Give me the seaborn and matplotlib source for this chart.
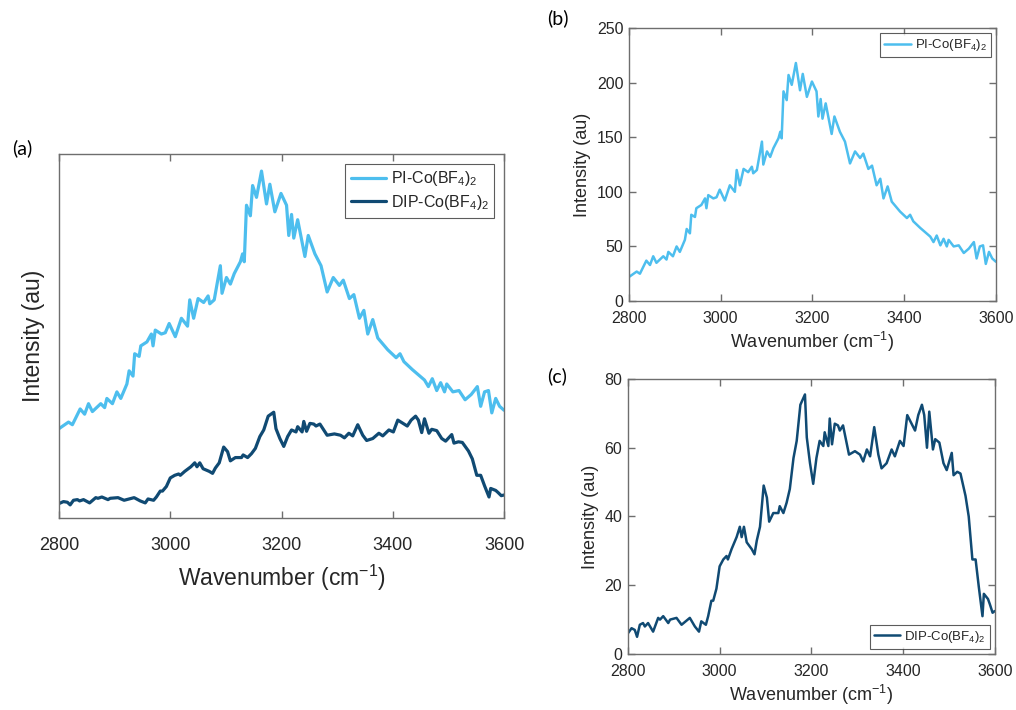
import numpy as np
import pandas as pd
import matplotlib
matplotlib.use("Agg")
import matplotlib.pyplot as plt
import seaborn as sns

# ---------------- data ----------------
PI_x = [2800, 2817, 2824, 2838, 2846, 2853, 2860, 2875, 2882, 2886,
        2896, 2904, 2911, 2922, 2926, 2933, 2936, 2944, 2947, 2958,
        2966, 2969, 2973, 2984, 2991, 2998, 3009, 3020, 3031, 3035,
        3042, 3050, 3060, 3068, 3071, 3079, 3090, 3093, 3101, 3108,
        3115, 3126, 3130, 3133, 3137, 3144, 3148, 3155, 3164, 3173,
        3179, 3188, 3199, 3209, 3213, 3218, 3222, 3229, 3242, 3248,
        3260, 3271, 3282, 3293, 3304, 3311, 3322, 3330, 3340, 3348,
        3355, 3364, 3373, 3391, 3406, 3413, 3420, 3435, 3457, 3464,
        3471, 3479, 3486, 3493, 3497, 3508, 3519, 3530, 3541, 3552,
        3558, 3565, 3572, 3578, 3585, 3592, 3600]
PI_y = [22, 27, 25, 37, 33, 41, 35, 41, 38, 45,
        41, 50, 45, 56, 66, 62, 79, 77, 85, 88,
        94, 85, 97, 94, 95, 102, 92, 106, 100, 120,
        106, 121, 118, 123, 117, 120, 146, 125, 137, 132,
        140, 149, 155, 149, 192, 184, 207, 198, 218, 193,
        208, 187, 201, 192, 169, 185, 167, 181, 153, 169,
        155, 146, 126, 137, 131, 135, 121, 124, 106, 112,
        94, 105, 91, 82, 76, 79, 73, 67, 59, 54,
        60, 51, 57, 50, 56, 50, 51, 44, 48, 54,
        39, 50, 51, 34, 45, 39, 36]

DIP_x = [2800, 2808, 2815, 2820, 2826, 2833, 2837, 2844, 2855, 2866,
         2870, 2877, 2888, 2892, 2906, 2917, 2935, 2946, 2955, 2960,
         2970, 2975, 2982, 2986, 2993, 3000, 3008, 3015, 3018, 3026,
         3037, 3044, 3048, 3053, 3059, 3070, 3076, 3081, 3088, 3096,
         3103, 3108, 3117, 3128, 3131, 3139, 3146, 3153, 3161, 3168,
         3176, 3186, 3190, 3197, 3204, 3211, 3218, 3226, 3229, 3237,
         3240, 3245, 3251, 3258, 3262, 3269, 3282, 3295, 3306, 3313,
         3321, 3328, 3337, 3346, 3353, 3364, 3375, 3382, 3393, 3401,
         3409, 3426, 3433, 3441, 3446, 3452, 3457, 3465, 3470, 3479,
         3488, 3495, 3506, 3510, 3518, 3525, 3536, 3543, 3551, 3558,
         3565, 3573, 3576, 3585, 3589, 3595, 3600]
DIP_y = [6, 7.5, 7, 5, 8.5, 9, 8, 9, 6.5, 10.5,
         10, 11, 9, 10, 10.5, 8.5, 10.5, 8, 6.5, 9.5,
         8.5, 11, 15.5, 15.5, 19, 25.5, 27.5, 28.5, 27.5, 30.5,
         34, 37, 34, 37, 32.5, 30.5, 29, 33, 37, 49,
         45.5, 38.5, 41, 41, 43, 41, 44, 48, 57, 62,
         72.5, 75.5, 63, 55.5, 49.5, 57, 62, 60.5, 64.5, 60.5,
         68.5, 61, 67, 66.5, 65, 66.5, 58, 59, 58, 56,
         59.5, 57.5, 66, 58, 54, 55.5, 59.5, 57.5, 62, 60.5,
         69.5, 65, 69.5, 72.5, 69.5, 60, 70.5, 59.5, 62.5, 61.5,
         55.5, 53.5, 58.5, 52, 53, 52.5, 46, 40, 27.5, 27.5,
         19.5, 11, 17.5, 16, 14.5, 12, 12.5]

PI_OFFSET = 41  # vertical offset of PI trace in panel (a)
PI_LABEL = "PI-Co(BF$_4$)$_2$"
DIP_LABEL = "DIP-Co(BF$_4$)$_2$"
X_TICKS = [2800, 3000, 3200, 3400, 3600]
B_YTICKS = [0, 50, 100, 150, 200, 250]
C_YTICKS = [0, 20, 40, 60, 80]

# ---------------- style ----------------
sns.set_theme(style="ticks")
plt.rcParams["font.family"] = ["Liberation Sans", "DejaVu Sans"]
plt.rcParams["mathtext.default"] = "regular"

PI_COLOR = "#4DBEEE"
DIP_COLOR = "#104A73"
SPINE = "#6e6e6e"
TXT = "#262626"

pi_df = pd.DataFrame({"x": PI_x, "y": PI_y})
dip_df = pd.DataFrame({"x": DIP_x, "y": DIP_y})
pi_a = pi_df.assign(y=pi_df["y"] + PI_OFFSET)

fig = plt.figure(figsize=(10.16, 7.10), dpi=100)
axA = fig.add_axes([0.0581, 0.2704, 0.438, 0.5127])
axB = fig.add_axes([0.619, 0.576, 0.3612, 0.3845])
axC = fig.add_axes([0.618, 0.0789, 0.3612, 0.3873])


def style_ax(ax, tick_size, label_size, xpad):
    for s in ax.spines.values():
        s.set_visible(True)
        s.set_color(SPINE)
        s.set_linewidth(1.0)
    ax.tick_params(which="major", direction="in", bottom=True, left=True,
                   top=True, right=True, length=5, width=1.0, color=SPINE,
                   labelsize=tick_size, labelcolor=TXT)
    ax.tick_params(axis="x", pad=xpad)
    ax.tick_params(axis="y", pad=4)
    ax.set_xlim(2800, 3600)
    ax.set_xticks(X_TICKS)
    ax.set_xlabel("Wavenumber (cm$^{-1}$)", fontsize=label_size, color=TXT)
    ax.set_ylabel("Intensity (au)", fontsize=label_size, color=TXT)


# panel (a)
sns.lineplot(data=pi_a, x="x", y="y", ax=axA, color=PI_COLOR, lw=2.3,
             label=PI_LABEL, estimator=None, sort=False)
sns.lineplot(data=dip_df, x="x", y="y", ax=axA, color=DIP_COLOR, lw=2.3,
             label=DIP_LABEL, estimator=None, sort=False)
style_ax(axA, 13, 16.5, 14)
axA.set_ylim(-5, 272)
axA.set_yticks([])
axA.yaxis.labelpad = 10
axA.xaxis.labelpad = 6
legA = axA.legend(loc="upper right", fontsize=11.5, frameon=True,
                  fancybox=False, edgecolor="#333333", handlelength=2.2,
                  borderaxespad=0.6, handletextpad=0.3, labelspacing=0.3,
                  borderpad=0.35)
legA.get_frame().set_linewidth(0.8)

# panel (b)
sns.lineplot(data=pi_df, x="x", y="y", ax=axB, color=PI_COLOR, lw=1.8,
             label=PI_LABEL, estimator=None, sort=False)
style_ax(axB, 11.5, 13, 7)
axB.set_ylim(0, 250)
axB.set_yticks(B_YTICKS)
axB.xaxis.labelpad = 3
legB = axB.legend(loc="upper right", fontsize=9.5, frameon=True,
                  fancybox=False, edgecolor="#333333", handlelength=2.0,
                  borderaxespad=0.4, handletextpad=0.3, borderpad=0.3)
legB.get_frame().set_linewidth(0.8)

# panel (c)
sns.lineplot(data=dip_df, x="x", y="y", ax=axC, color=DIP_COLOR, lw=1.8,
             label=DIP_LABEL, estimator=None, sort=False)
style_ax(axC, 11.5, 13, 7)
axC.set_ylim(0, 80)
axC.set_yticks(C_YTICKS)
axC.xaxis.labelpad = 3
legC = axC.legend(loc="lower right", fontsize=9.5, frameon=True,
                  fancybox=False, edgecolor="#333333", handlelength=2.0,
                  borderaxespad=0.4, handletextpad=0.3, borderpad=0.3)
legC.get_frame().set_linewidth(0.8)

# panel letters
for x_px, y_px, s in [(12, 148, "(a)"), (547, 18, "(b)"), (547, 376, "(c)")]:
    fig.text(x_px / 1016, 1 - y_px / 710, s, fontsize=14, color="black",
             va="center", ha="left", family=["Lato", "DejaVu Sans"])

fig.savefig("out.png", dpi=100)
